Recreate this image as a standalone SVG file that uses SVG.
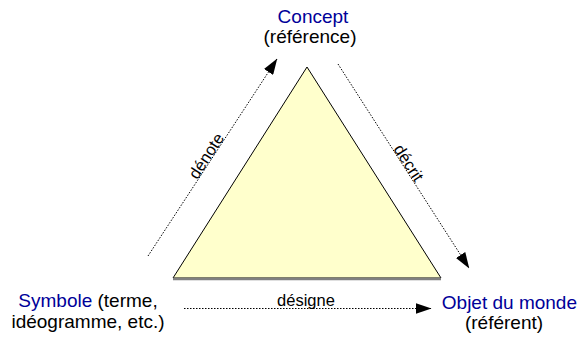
<svg xmlns="http://www.w3.org/2000/svg" width="579" height="341" viewBox="0 0 579 341">
<style>
text{font-family:"Liberation Sans",Arial,sans-serif;font-size:19px;fill:#000}
.b{fill:#000099}
.lbl{font-size:16.5px}
.con{stroke:#000;stroke-width:1;stroke-dasharray:1.5 1.5;fill:none}
</style>
<defs>
<marker id="ah" markerWidth="16" markerHeight="11" refX="15.5" refY="5.5" orient="auto" markerUnits="userSpaceOnUse">
<path d="M0,0 L16,5.5 L0,11 Z" fill="#000"/>
</marker>
</defs>
<rect width="579" height="341" fill="#fff"/>
<g id="triangle">
<polygon points="307,67 173,278 441,278" fill="#ffffcc" stroke="#000" stroke-width="1"/>
<line x1="173" y1="279" x2="441" y2="279" stroke="#808080" stroke-width="2.5"/>
</g>
<g id="concept">
<text x="313" y="23" text-anchor="middle" class="b">Concept</text>
<text x="310" y="43" text-anchor="middle">(référence)</text>
</g>
<g id="symbole">
<text x="88" y="307" text-anchor="middle"><tspan class="b">Symbole</tspan> (terme,</text>
<text x="88" y="328" text-anchor="middle">idéogramme, etc.)</text>
</g>
<g id="objet">
<text x="577" y="309" text-anchor="end" class="b">Objet du monde</text>
<text x="504" y="329" text-anchor="middle">(référent)</text>
</g>
<g id="connectors">
<line class="con" x1="148" y1="256" x2="277" y2="59" marker-end="url(#ah)"/>
<line class="con" x1="338" y1="64" x2="469" y2="268" marker-end="url(#ah)"/>
<line class="con" x1="184" y1="308.5" x2="431" y2="308.5" marker-end="url(#ah)"/>
<text class="lbl" transform="translate(211,159) rotate(-57)" text-anchor="middle">dénote</text>
<text class="lbl" transform="translate(404,166) rotate(57)" text-anchor="middle">décrit</text>
<text class="lbl" x="306" y="306" text-anchor="middle">désigne</text>
</g>
</svg>
